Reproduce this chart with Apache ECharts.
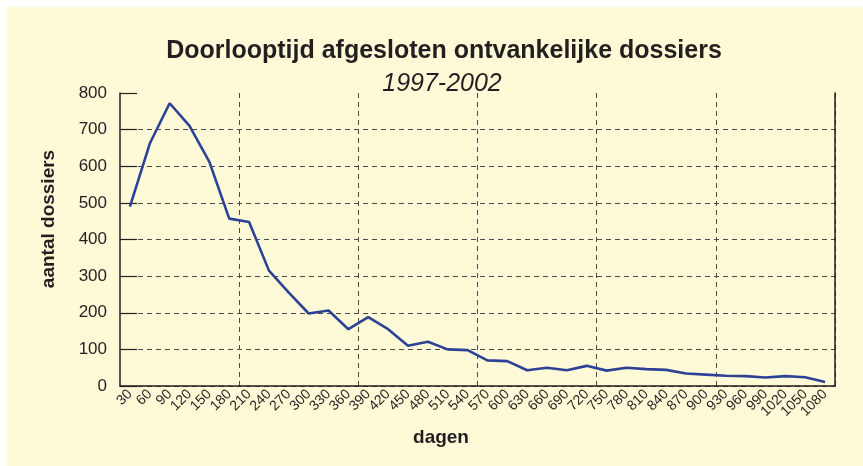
<!DOCTYPE html>
<html>
<head>
<meta charset="utf-8">
<script src="https://cdn.jsdelivr.net/npm/echarts@6/dist/echarts.min.js"></script>
<style>
  html, body { margin: 0; padding: 0; background: #ffffff; }
  #chart { position: absolute; left: 7px; top: 7px; width: 856px; height: 459px; background: #fef9d6; }
</style>
</head>
<body>
<div id="chart"></div>
<script>
// dagen (x categorieën)
const dagen = ["30","60","90","120","150","180","210","240","270","300","330","360",
  "390","420","450","480","510","540","570","600","630","660","690","720",
  "750","780","810","840","870","900","930","960","990","1020","1050","1080"];
// aantal dossiers per klasse
const aantal = [490, 662, 772, 710, 612, 457, 448, 315, 255, 198, 206, 155,
  188, 155, 110, 121, 100, 98, 70, 68, 43, 50, 43, 55,
  42, 50, 46, 44, 34, 31, 28, 27, 23, 27, 24, 11];
const yTicks = [0, 800, 100]; // min, max, stap

const font = "Liberation Sans, Arial, sans-serif";
const ink = "#231f20";
const chart = echarts.init(document.getElementById("chart"));

const options = {
  backgroundColor: "#fef9d6",
  title: [
    {
      text: "Doorlooptijd afgesloten ontvankelijke dossiers",
      left: 432, top: 27, textAlign: "center",
      textStyle: { fontFamily: font, fontSize: 25, fontWeight: "bold", color: ink }
    },
    {
      text: "1997-2002",
      left: 430, top: 60, textAlign: "center",
      textStyle: { fontFamily: font, fontSize: 25, fontStyle: "italic", fontWeight: "normal", color: ink }
    }
  ],
  // asnamen
  graphic: [
    {
      type: "text", x: 41.5, y: 212, rotation: Math.PI / 2,
      style: { text: "aantal dossiers", font: "bold 19px " + font, fill: ink, align: "center", verticalAlign: "middle" }
    },
    {
      type: "text", x: 434, y: 431,
      style: { text: "dagen", font: "bold 19px " + font, fill: ink, align: "center", verticalAlign: "middle" }
    }
  ],
  grid: { left: 113, right: 28, top: 86, bottom: 80 },
  xAxis: {
    type: "category",
    data: dagen,
    boundaryGap: true,
    axisLine: { lineStyle: { color: ink, width: 1.5 } },
    axisTick: { inside: true, length: 7, interval: 0, lineStyle: { color: ink, width: 1.2 } },
    axisLabel: { interval: 0, rotate: 45, fontFamily: font, fontSize: 14, color: ink, margin: 6 },
    splitLine: {
      show: true,
      interval: function (i) { return i > 0 && i < dagen.length && i % 6 === 0; },
      lineStyle: { color: "#4a4a4a", type: [5, 4], width: 1 }
    }
  },
  yAxis: [
    {
      type: "value",
      min: yTicks[0], max: yTicks[1], interval: yTicks[2],
      axisLine: { show: true, lineStyle: { color: ink, width: 1.5 } },
      axisTick: { show: true, inside: true, length: 17, lineStyle: { color: ink, width: 1.2 } },
      axisLabel: { fontFamily: font, fontSize: 17, color: ink, margin: 13 },
      splitLine: { show: true, showMaxLine: false, lineStyle: { color: "#4a4a4a", type: [5, 4], width: 1 } }
    },
    {
      type: "value",
      position: "right",
      min: yTicks[0], max: yTicks[1], interval: yTicks[2],
      axisLine: { show: true, lineStyle: { color: ink, width: 1.5 } },
      axisTick: { show: false },
      axisLabel: { show: false },
      splitLine: { show: false }
    }
  ],
  series: [
    {
      type: "line",
      data: aantal,
      showSymbol: false,
      lineStyle: { color: "#2b4297", width: 2.6 },
      itemStyle: { color: "#2b4297" }
    }
  ]
};

chart.setOption(options);
</script>
</body>
</html>
